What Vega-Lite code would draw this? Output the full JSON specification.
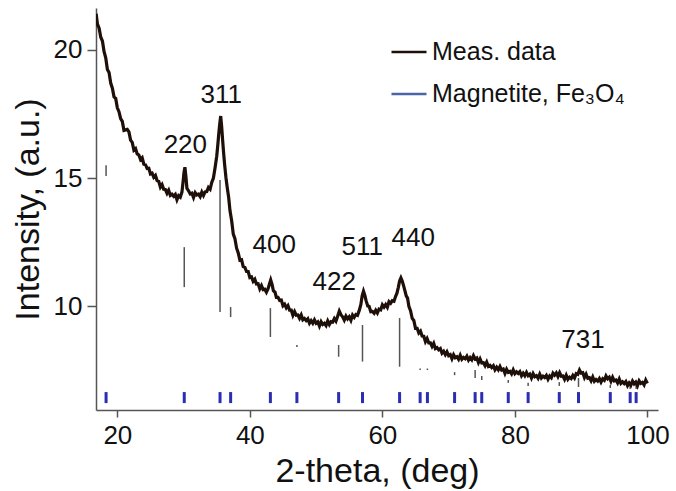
{
  "$schema": "https://vega.github.io/schema/vega-lite/v6.json",
  "width": 562,
  "height": 402,
  "autosize": "none",
  "padding": {"left": 96, "top": 8, "right": 18, "bottom": 81},
  "config": {
    "view": {"stroke": null},
    "font": "Liberation Sans",
    "axis": {
      "grid": false,
      "domainColor": "#555555",
      "domainWidth": 1.5,
      "tickColor": "#555555",
      "tickWidth": 1.5,
      "labelColor": "#111111",
      "titleColor": "#111111",
      "labelFont": "Liberation Sans",
      "titleFont": "Liberation Sans",
      "titleFontWeight": "normal",
      "labelFontSize": 26,
      "titleFontSize": 34
    }
  },
  "datasets": {
    "meas": [
      {"x":16.8,"y":21.42},{"x":17.0,"y":21.01},{"x":17.25,"y":20.85},{"x":17.5,"y":20.5},{"x":17.75,"y":20.35},{"x":18.0,"y":19.93},{"x":18.25,"y":19.69},{"x":18.5,"y":19.24},{"x":18.75,"y":19.12},{"x":19.0,"y":18.71},{"x":19.25,"y":18.51},{"x":19.5,"y":18.17},{"x":19.75,"y":18.11},{"x":20.0,"y":17.74},{"x":20.25,"y":17.59},{"x":20.5,"y":17.32},{"x":20.75,"y":17.21},{"x":21.0,"y":16.86},{"x":21.25,"y":16.88},{"x":21.5,"y":16.9},{"x":21.75,"y":16.8},{"x":22.0,"y":16.48},{"x":22.25,"y":16.39},{"x":22.5,"y":16.09},{"x":22.75,"y":16.15},{"x":23.0,"y":15.94},{"x":23.25,"y":15.9},{"x":23.5,"y":15.72},{"x":23.75,"y":15.79},{"x":24.0,"y":15.54},{"x":24.25,"y":15.52},{"x":24.5,"y":15.37},{"x":24.75,"y":15.38},{"x":25.0,"y":15.16},{"x":25.25,"y":15.19},{"x":25.5,"y":15.03},{"x":25.75,"y":15.1},{"x":26.0,"y":14.9},{"x":26.25,"y":14.87},{"x":26.5,"y":14.64},{"x":26.75,"y":14.74},{"x":27.0,"y":14.56},{"x":27.25,"y":14.55},{"x":27.5,"y":14.4},{"x":27.75,"y":14.52},{"x":28.0,"y":14.32},{"x":28.25,"y":14.37},{"x":28.5,"y":14.29},{"x":28.75,"y":14.36},{"x":29.0,"y":14.15},{"x":29.25,"y":14.31},{"x":29.5,"y":14.25},{"x":29.75,"y":14.45},{"x":29.9,"y":14.8},{"x":30.05,"y":15.2},{"x":30.2,"y":15.42},{"x":30.35,"y":15.05},{"x":30.5,"y":14.6},{"x":30.75,"y":14.5},{"x":31.0,"y":14.38},{"x":31.25,"y":14.41},{"x":31.5,"y":14.24},{"x":31.75,"y":14.43},{"x":32.0,"y":14.34},{"x":32.25,"y":14.37},{"x":32.5,"y":14.27},{"x":32.75,"y":14.45},{"x":33.0,"y":14.32},{"x":33.25,"y":14.46},{"x":33.5,"y":14.47},{"x":33.75,"y":14.63},{"x":34.0,"y":14.56},{"x":34.25,"y":14.83},{"x":34.5,"y":15.0},{"x":34.75,"y":15.4},{"x":35.0,"y":15.85},{"x":35.15,"y":16.25},{"x":35.3,"y":16.7},{"x":35.45,"y":17.1},{"x":35.6,"y":17.42},{"x":35.75,"y":17.0},{"x":35.9,"y":16.45},{"x":36.05,"y":15.95},{"x":36.2,"y":15.5},{"x":36.4,"y":15.0},{"x":36.6,"y":14.6},{"x":36.8,"y":14.25},{"x":37.0,"y":13.73},{"x":37.25,"y":13.34},{"x":37.5,"y":12.81},{"x":37.75,"y":12.63},{"x":38.0,"y":12.26},{"x":38.25,"y":12.07},{"x":38.5,"y":11.79},{"x":38.75,"y":11.81},{"x":39.0,"y":11.54},{"x":39.25,"y":11.51},{"x":39.5,"y":11.35},{"x":39.75,"y":11.35},{"x":40.0,"y":11.11},{"x":40.25,"y":11.14},{"x":40.5,"y":10.97},{"x":40.75,"y":11.05},{"x":41.0,"y":10.86},{"x":41.25,"y":10.87},{"x":41.5,"y":10.67},{"x":41.75,"y":10.8},{"x":42.0,"y":10.64},{"x":42.25,"y":10.66},{"x":42.5,"y":10.54},{"x":42.75,"y":10.68},{"x":42.95,"y":10.85},{"x":43.15,"y":11.02},{"x":43.35,"y":10.85},{"x":43.55,"y":10.6},{"x":43.8,"y":10.54},{"x":44.0,"y":10.34},{"x":44.25,"y":10.34},{"x":44.5,"y":10.22},{"x":44.75,"y":10.23},{"x":45.0,"y":10.01},{"x":45.25,"y":10.07},{"x":45.5,"y":9.93},{"x":45.75,"y":10.02},{"x":46.0,"y":9.84},{"x":46.25,"y":9.84},{"x":46.5,"y":9.64},{"x":46.75,"y":9.78},{"x":47.0,"y":9.64},{"x":47.25,"y":9.65},{"x":47.5,"y":9.52},{"x":47.75,"y":9.65},{"x":48.0,"y":9.46},{"x":48.25,"y":9.51},{"x":48.5,"y":9.43},{"x":48.75,"y":9.5},{"x":49.0,"y":9.33},{"x":49.25,"y":9.43},{"x":49.5,"y":9.33},{"x":49.75,"y":9.46},{"x":50.0,"y":9.33},{"x":50.25,"y":9.38},{"x":50.5,"y":9.22},{"x":50.75,"y":9.39},{"x":51.0,"y":9.28},{"x":51.25,"y":9.33},{"x":51.5,"y":9.24},{"x":51.75,"y":9.42},{"x":52.0,"y":9.28},{"x":52.25,"y":9.39},{"x":52.5,"y":9.37},{"x":52.75,"y":9.51},{"x":53.0,"y":9.41},{"x":53.25,"y":9.6},{"x":53.5,"y":9.8},{"x":53.75,"y":9.66},{"x":54.0,"y":9.58},{"x":54.25,"y":9.45},{"x":54.5,"y":9.61},{"x":54.75,"y":9.5},{"x":55.0,"y":9.58},{"x":55.25,"y":9.44},{"x":55.5,"y":9.65},{"x":55.75,"y":9.56},{"x":56.0,"y":9.67},{"x":56.25,"y":9.64},{"x":56.5,"y":9.82},{"x":56.75,"y":10.05},{"x":56.95,"y":10.4},{"x":57.15,"y":10.58},{"x":57.35,"y":10.42},{"x":57.55,"y":10.2},{"x":57.8,"y":10.0},{"x":58.0,"y":9.99},{"x":58.25,"y":9.78},{"x":58.5,"y":9.79},{"x":58.75,"y":9.72},{"x":59.0,"y":9.84},{"x":59.25,"y":9.73},{"x":59.5,"y":9.88},{"x":59.75,"y":9.85},{"x":60.0,"y":10.05},{"x":60.25,"y":9.96},{"x":60.5,"y":10.06},{"x":60.75,"y":9.95},{"x":61.0,"y":10.17},{"x":61.25,"y":10.11},{"x":61.5,"y":10.21},{"x":61.75,"y":10.19},{"x":62.0,"y":10.38},{"x":62.2,"y":10.5},{"x":62.4,"y":10.72},{"x":62.6,"y":10.98},{"x":62.8,"y":11.1},{"x":63.0,"y":10.98},{"x":63.2,"y":10.8},{"x":63.4,"y":10.6},{"x":63.6,"y":10.4},{"x":63.8,"y":10.31},{"x":64.0,"y":9.99},{"x":64.25,"y":9.82},{"x":64.5,"y":9.52},{"x":64.75,"y":9.44},{"x":65.0,"y":9.13},{"x":65.25,"y":9.13},{"x":65.5,"y":8.95},{"x":65.75,"y":9.02},{"x":66.0,"y":8.83},{"x":66.25,"y":8.82},{"x":66.5,"y":8.61},{"x":66.75,"y":8.73},{"x":67.0,"y":8.56},{"x":67.25,"y":8.56},{"x":67.5,"y":8.42},{"x":67.75,"y":8.54},{"x":68.0,"y":8.34},{"x":68.25,"y":8.38},{"x":68.5,"y":8.29},{"x":68.75,"y":8.34},{"x":69.0,"y":8.16},{"x":69.25,"y":8.23},{"x":69.5,"y":8.1},{"x":69.75,"y":8.21},{"x":70.0,"y":8.06},{"x":70.25,"y":8.1},{"x":70.5,"y":7.94},{"x":70.75,"y":8.1},{"x":71.0,"y":7.98},{"x":71.25,"y":8.02},{"x":71.5,"y":7.92},{"x":71.75,"y":8.08},{"x":72.0,"y":7.92},{"x":72.25,"y":7.99},{"x":72.5,"y":7.94},{"x":72.75,"y":8.04},{"x":73.0,"y":7.89},{"x":73.25,"y":7.99},{"x":73.5,"y":7.9},{"x":73.75,"y":8.06},{"x":74.0,"y":7.93},{"x":74.25,"y":7.97},{"x":74.5,"y":7.79},{"x":74.75,"y":7.93},{"x":75.0,"y":7.78},{"x":75.25,"y":7.79},{"x":75.5,"y":7.67},{"x":75.75,"y":7.81},{"x":76.0,"y":7.64},{"x":76.25,"y":7.68},{"x":76.5,"y":7.6},{"x":76.75,"y":7.67},{"x":77.0,"y":7.51},{"x":77.25,"y":7.61},{"x":77.5,"y":7.51},{"x":77.75,"y":7.64},{"x":78.0,"y":7.5},{"x":78.25,"y":7.54},{"x":78.5,"y":7.37},{"x":78.75,"y":7.53},{"x":79.0,"y":7.41},{"x":79.25,"y":7.45},{"x":79.5,"y":7.35},{"x":79.75,"y":7.51},{"x":80.0,"y":7.36},{"x":80.25,"y":7.43},{"x":80.5,"y":7.37},{"x":80.75,"y":7.44},{"x":81.0,"y":7.28},{"x":81.25,"y":7.38},{"x":81.5,"y":7.28},{"x":81.75,"y":7.41},{"x":82.0,"y":7.28},{"x":82.25,"y":7.34},{"x":82.5,"y":7.19},{"x":82.75,"y":7.36},{"x":83.0,"y":7.24},{"x":83.25,"y":7.28},{"x":83.5,"y":7.18},{"x":83.75,"y":7.34},{"x":84.0,"y":7.19},{"x":84.25,"y":7.26},{"x":84.5,"y":7.21},{"x":84.75,"y":7.29},{"x":85.0,"y":7.14},{"x":85.25,"y":7.27},{"x":85.5,"y":7.2},{"x":85.75,"y":7.38},{"x":86.0,"y":7.3},{"x":86.25,"y":7.39},{"x":86.5,"y":7.25},{"x":86.75,"y":7.4},{"x":87.0,"y":7.26},{"x":87.25,"y":7.27},{"x":87.5,"y":7.14},{"x":87.75,"y":7.3},{"x":88.0,"y":7.14},{"x":88.25,"y":7.22},{"x":88.5,"y":7.17},{"x":88.75,"y":7.29},{"x":89.0,"y":7.19},{"x":89.25,"y":7.36},{"x":89.5,"y":7.33},{"x":89.75,"y":7.5},{"x":90.0,"y":7.38},{"x":90.25,"y":7.4},{"x":90.5,"y":7.21},{"x":90.75,"y":7.34},{"x":91.0,"y":7.18},{"x":91.25,"y":7.2},{"x":91.5,"y":7.08},{"x":91.75,"y":7.23},{"x":92.0,"y":7.06},{"x":92.25,"y":7.13},{"x":92.5,"y":7.07},{"x":92.75,"y":7.17},{"x":93.0,"y":7.03},{"x":93.25,"y":7.16},{"x":93.5,"y":7.1},{"x":93.75,"y":7.27},{"x":94.0,"y":7.16},{"x":94.25,"y":7.22},{"x":94.5,"y":7.06},{"x":94.75,"y":7.22},{"x":95.0,"y":7.08},{"x":95.25,"y":7.11},{"x":95.5,"y":7.0},{"x":95.75,"y":7.15},{"x":96.0,"y":6.98},{"x":96.25,"y":7.04},{"x":96.5,"y":6.97},{"x":96.75,"y":7.05},{"x":97.0,"y":6.89},{"x":97.25,"y":7.0},{"x":97.5,"y":6.91},{"x":97.75,"y":7.07},{"x":98.0,"y":6.96},{"x":98.25,"y":7.03},{"x":98.5,"y":6.89},{"x":98.75,"y":7.08},{"x":99.0,"y":6.98},{"x":99.25,"y":7.02},{"x":99.5,"y":6.92},{"x":99.75,"y":7.11},{"x":100.0,"y":6.98}
    ],
    "refl": [
      {"x":18.3,"lo":15.08,"hi":15.5},
      {"x":30.1,"lo":10.74,"hi":12.3},
      {"x":35.5,"lo":9.77,"hi":14.92},
      {"x":37.1,"lo":9.57,"hi":9.96},
      {"x":43.1,"lo":8.79,"hi":9.92},
      {"x":47.1,"lo":8.4,"hi":8.48},
      {"x":53.4,"lo":8.02,"hi":8.48},
      {"x":57.0,"lo":7.83,"hi":9.26},
      {"x":62.6,"lo":7.63,"hi":9.53},
      {"x":65.7,"lo":7.5,"hi":7.56},
      {"x":66.8,"lo":7.5,"hi":7.56},
      {"x":70.9,"lo":7.3,"hi":7.42},
      {"x":74.0,"lo":7.19,"hi":7.5},
      {"x":75.0,"lo":7.11,"hi":7.27},
      {"x":79.0,"lo":7.0,"hi":7.11},
      {"x":82.0,"lo":6.88,"hi":7.0},
      {"x":86.7,"lo":6.88,"hi":7.03},
      {"x":89.6,"lo":6.84,"hi":7.19},
      {"x":94.4,"lo":6.8,"hi":6.92},
      {"x":97.4,"lo":6.76,"hi":6.92},
      {"x":98.3,"lo":6.76,"hi":6.92}
    ],
    "labels": [
      {"label":"220","x":30.26,"y":16.29},
      {"label":"311","x":35.69,"y":18.24},
      {"label":"400","x":43.68,"y":12.38},
      {"label":"422","x":52.73,"y":10.94},
      {"label":"511","x":56.95,"y":12.3},
      {"label":"440","x":64.65,"y":12.66},
      {"label":"731","x":90.29,"y":8.67}
    ]
  },
  "layer": [
    {
      "data": {"name": "refl"},
      "mark": {"type": "rule", "color": "#555555", "strokeWidth": 1.5},
      "encoding": {
        "x": {"field": "x", "type": "quantitative", "scale": {"domain": [16.78, 101.6], "nice": false, "zero": false},
              "axis": {"values": [20, 40, 60, 80, 100], "title": "2-theta, (deg)", "tickSize": 7, "labelPadding": 5, "titlePadding": 6}},
        "y": {"field": "lo", "type": "quantitative", "scale": {"domain": [5.94, 21.64], "nice": false, "zero": false},
              "axis": {"values": [10, 15, 20], "title": "Intensity, (a.u.)", "tickSize": 9, "labelPadding": 5, "titlePadding": 8}},
        "y2": {"field": "hi"}
      }
    },
    {
      "data": {"name": "refl"},
      "mark": {"type": "rule", "color": "#2b2db4", "strokeWidth": 3},
      "encoding": {
        "x": {"field": "x", "type": "quantitative"},
        "y": {"datum": 6.21},
        "y2": {"datum": 6.64}
      }
    },
    {
      "data": {"name": "meas"},
      "mark": {"type": "line", "strokeWidth": 3.2, "clip": true},
      "encoding": {
        "x": {"field": "x", "type": "quantitative"},
        "y": {"field": "y", "type": "quantitative"},
        "color": {
          "datum": "Meas. data",
          "scale": {"domain": ["Meas. data", "Magnetite, Fe₃O₄"], "range": ["#1e0f08", "#4a64a8"]},
          "legend": {
            "title": null,
            "orient": "none",
            "legendX": 294,
            "legendY": 25,
            "padding": 0,
            "symbolType": "stroke",
            "symbolSize": 1225,
            "symbolStrokeWidth": 2.5,
            "labelFont": "Liberation Sans",
            "labelFontSize": 25,
            "labelColor": "#111111",
            "labelOffset": 4,
            "labelLimit": 400,
            "rowPadding": 10
          }
        }
      }
    },
    {
      "data": {"name": "labels"},
      "mark": {"type": "text", "fontSize": 26, "font": "Liberation Sans", "color": "#111111", "align": "center", "baseline": "middle"},
      "encoding": {
        "x": {"field": "x", "type": "quantitative"},
        "y": {"field": "y", "type": "quantitative"},
        "text": {"field": "label"}
      }
    }
  ]
}
